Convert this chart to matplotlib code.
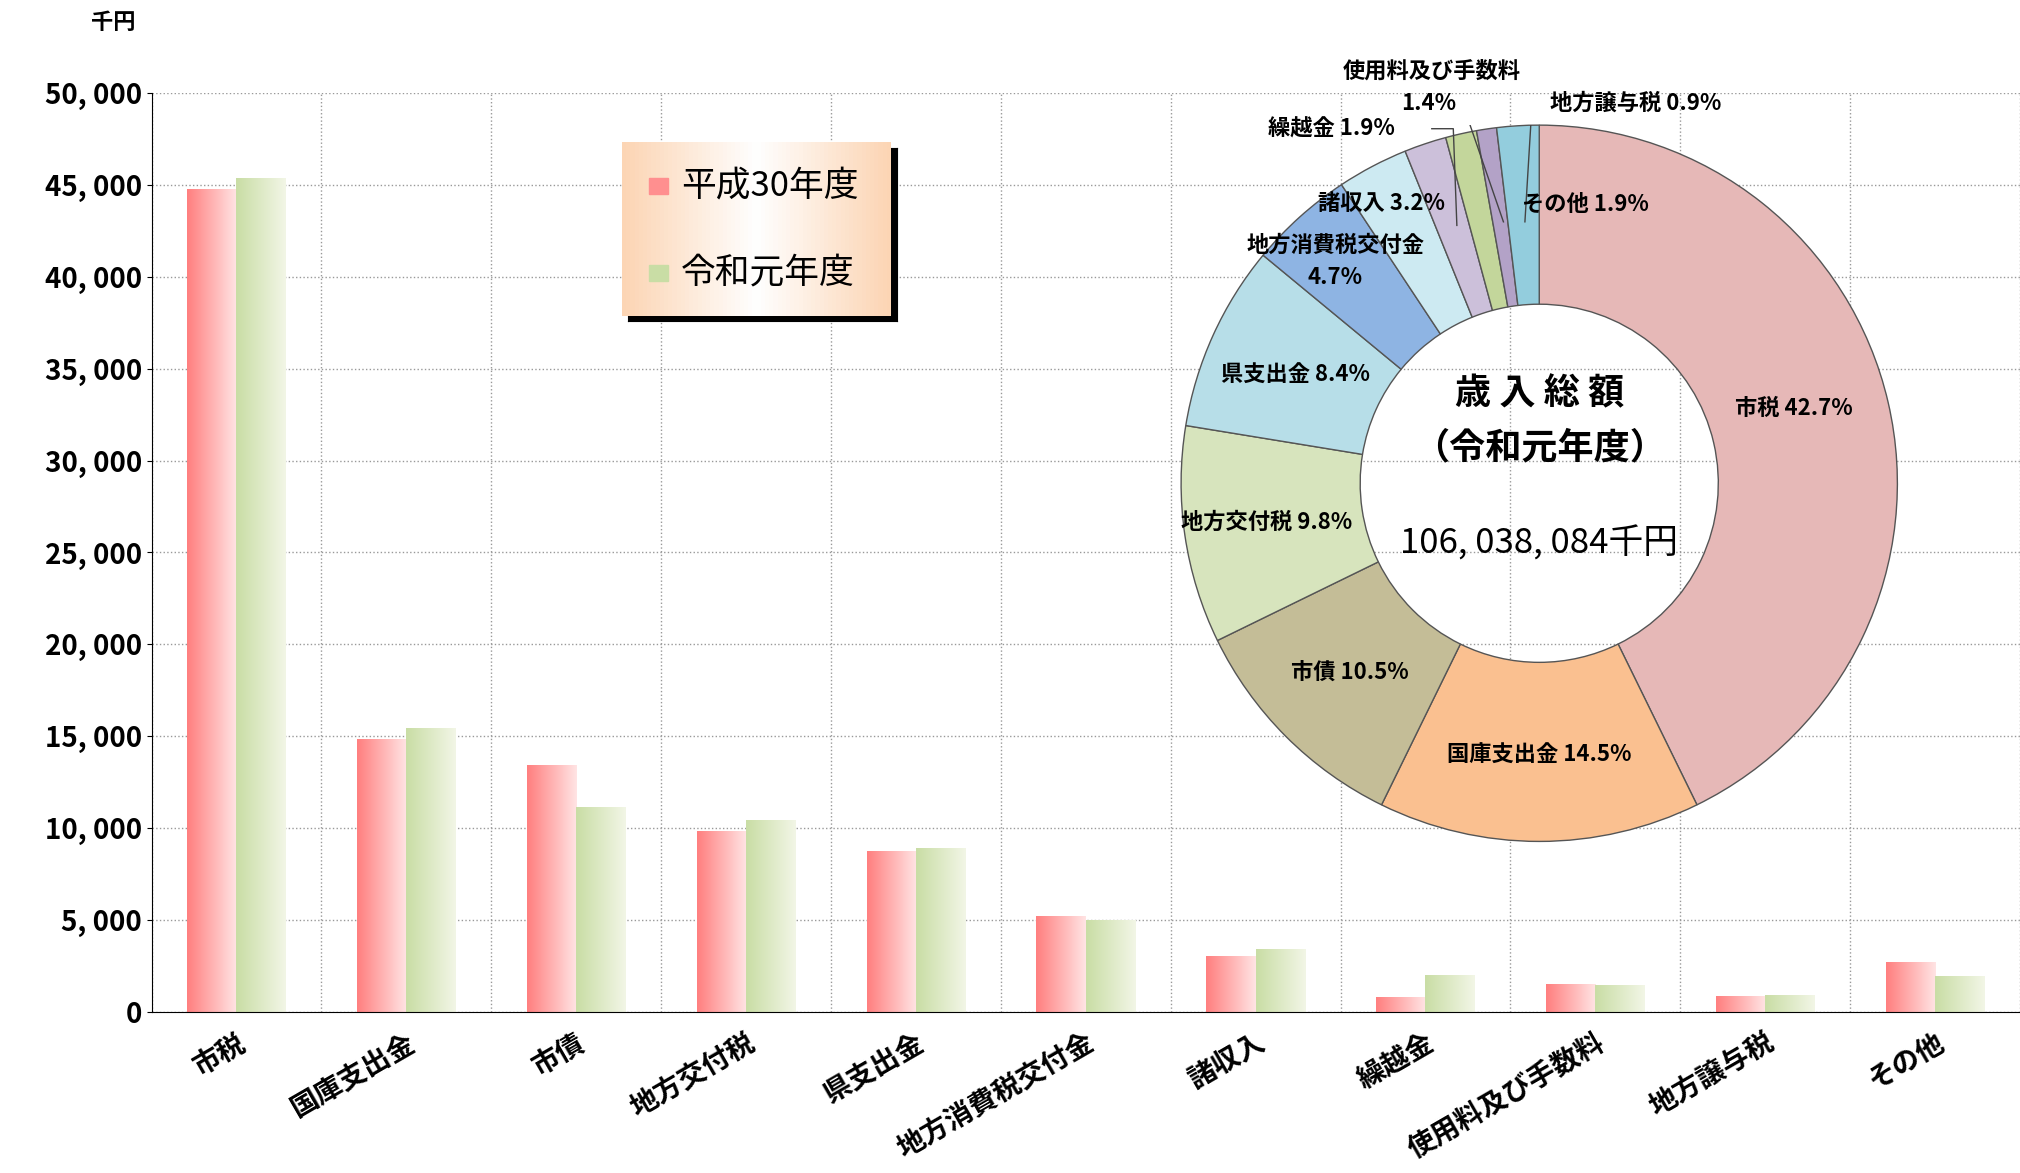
import matplotlib
matplotlib.use("Agg")
import matplotlib.pyplot as plt
import numpy as np
from matplotlib.colors import LinearSegmentedColormap
from matplotlib.patches import Rectangle

plt.rcParams['font.family'] = ['Noto Sans CJK JP', 'DejaVu Sans']

categories = ['市税','国庫支出金','市債','地方交付税','県支出金','地方消費税交付金','諸収入','繰越金','使用料及び手数料','地方譲与税','その他']
h30 = [44700,14800,13400,9800,8700,5200,3000,800,1500,850,2700]
r1  = [45300,15400,11100,10400,8900,5000,3400,2000,1450,900,1950]
pie_labels = ['市税','国庫支出金','市債','地方交付税','県支出金','地方消費税交付金','諸収入','繰越金','使用料及び手数料','地方譲与税','その他']
pie_share = [42.7,14.5,10.5,9.8,8.4,4.7,3.2,1.9,1.4,0.9,1.9]
pie_colors = ['#E6B8B7','#FAC090','#C4BD97','#D7E4BD','#B7DEE8','#8EB4E3','#CDEAF2','#CCC0DA','#C3D69B','#B3A2C7','#93CDDD']

fig = plt.figure(figsize=(20.2,11.73), dpi=100)
ax = fig.add_axes([0.075,0.137,0.925,0.784])
n = len(categories)
x = np.arange(n)
w = 0.29
cm1 = LinearSegmentedColormap.from_list('p',['#FF7F7F','#FFE4E4'])
cm2 = LinearSegmentedColormap.from_list('g',['#C9DDA5','#F2F6E6'])
grad = np.linspace(0,1,64).reshape(1,-1)
b1 = ax.bar(x-w/2, h30, w, color='none')
b2 = ax.bar(x+w/2, r1, w, color='none')
for bars, cm in ((b1,cm1),(b2,cm2)):
    for b in bars:
        x0 = b.get_x()
        ax.imshow(grad, cmap=cm, aspect='auto', extent=[x0,x0+b.get_width(),0,b.get_height()], zorder=2)
ax.set_xlim(-0.5, n-0.5)
ax.set_ylim(0,50000)
ax.set_yticks(np.arange(0,50001,5000))
ax.set_yticklabels([f'{v:,}'.replace(',', ', ') for v in range(0,50001,5000)], fontsize=20, weight='bold')
ax.set_xticks(x)
ax.set_xticklabels(categories, rotation=30, ha='right', fontsize=20, weight='bold', rotation_mode='anchor')
ax.set_xticks(np.arange(-0.5,n,1), minor=True)
ax.grid(True, which='minor', axis='x', color='#999999', linestyle=':', lw=1)
ax.grid(True, which='major', axis='y', color='#999999', linestyle=':', lw=1)
ax.tick_params(axis='x', which='both', length=0)
ax.tick_params(axis='x', pad=12)
for s in ['top','right']:
    ax.spines[s].set_visible(False)
ax.set_axisbelow(True)
fig.text(0.045,0.975,'千円',fontsize=16,weight='bold',ha='left')

# legend
lx, ly, lw_, lh = 0.308, 0.731, 0.133, 0.148
sh = fig.add_axes([lx+0.003,ly-0.005,lw_,lh]); sh.set_facecolor('black')
sh.set_xticks([]); sh.set_yticks([])
lg = fig.add_axes([lx,ly,lw_,lh]); lg.set_xticks([]); lg.set_yticks([])
lg.imshow(np.linspace(0,1,64).reshape(1,-1), cmap=LinearSegmentedColormap.from_list('l',['#FCD5B4','#FFFFFF','#FCD5B4']), aspect='auto', extent=[0,1,0,1])
for s in lg.spines.values(): s.set_visible(False)
lg.add_patch(Rectangle((0.1,0.7),0.07,0.09,color='#FF8F8F'))
lg.add_patch(Rectangle((0.1,0.2),0.07,0.09,color='#C9DDA5'))
lg.text(0.22,0.745,'平成30年度',fontsize=25,va='center')
lg.text(0.22,0.245,'令和元年度',fontsize=25,va='center')
lg.set_xlim(0,1); lg.set_ylim(0,1)

# donut
pax = fig.add_axes([0.762-0.1773,0.588-0.3055,0.3546,0.611])
wedges,_ = pax.pie(pie_share, colors=pie_colors, startangle=90, counterclock=False,
                   wedgeprops=dict(width=0.5, edgecolor='#555555', linewidth=1))
pax.set_aspect('equal')
pax.text(0,0.25,'歳 入 総 額',ha='center',va='center',fontsize=26,weight='bold')
pax.text(0,0.1,'（令和元年度）',ha='center',va='center',fontsize=26,weight='bold')
pax.text(0,-0.17,'106, 038, 084千円',ha='center',va='center',fontsize=25)
fs=16
pos = {0:(0.71,0.21),1:(0.0,-0.76),2:(-0.53,-0.53),3:(-0.76,-0.11),
       4:(-0.68,0.3),5:(-0.57,0.62),6:(-0.44,0.78)}
for i,(px,py) in pos.items():
    lab = f'{pie_labels[i]} {pie_share[i]}%'
    if i==5: lab = f'{pie_labels[i]}\n{pie_share[i]}%'
    pax.text(px,py,lab,ha='center',va='center',fontsize=fs,weight='bold',linespacing=1.5)
pax.text(-0.58,0.99,f'繰越金 {pie_share[7]}%',ha='center',va='center',fontsize=fs,weight='bold')
pax.plot([-0.3,-0.24,-0.23],[0.99,0.99,0.72],color='#444444',lw=1)
pax.text(-0.3,1.15,'使用料及び手数料',ha='center',va='center',fontsize=fs,weight='bold')
pax.text(-0.31,1.06,f'{pie_share[8]}%',ha='center',va='center',fontsize=fs,weight='bold')
pax.plot([-0.2,-0.1],[1.02,0.73],color='#444444',lw=1)
pax.text(0.03,1.06,f'{pie_labels[9]} {pie_share[9]}%',ha='left',va='center',fontsize=fs,weight='bold')
pax.plot([0.025,-0.02,-0.04],[1.06,1.06,0.73],color='#444444',lw=1)
pax.text(0.13,0.78,f'その他 {pie_share[10]}%',ha='center',va='center',fontsize=fs,weight='bold')
pax.set_xlim(-1.0,1.0); pax.set_ylim(-1.0,1.0)
fig.savefig('out.png')
